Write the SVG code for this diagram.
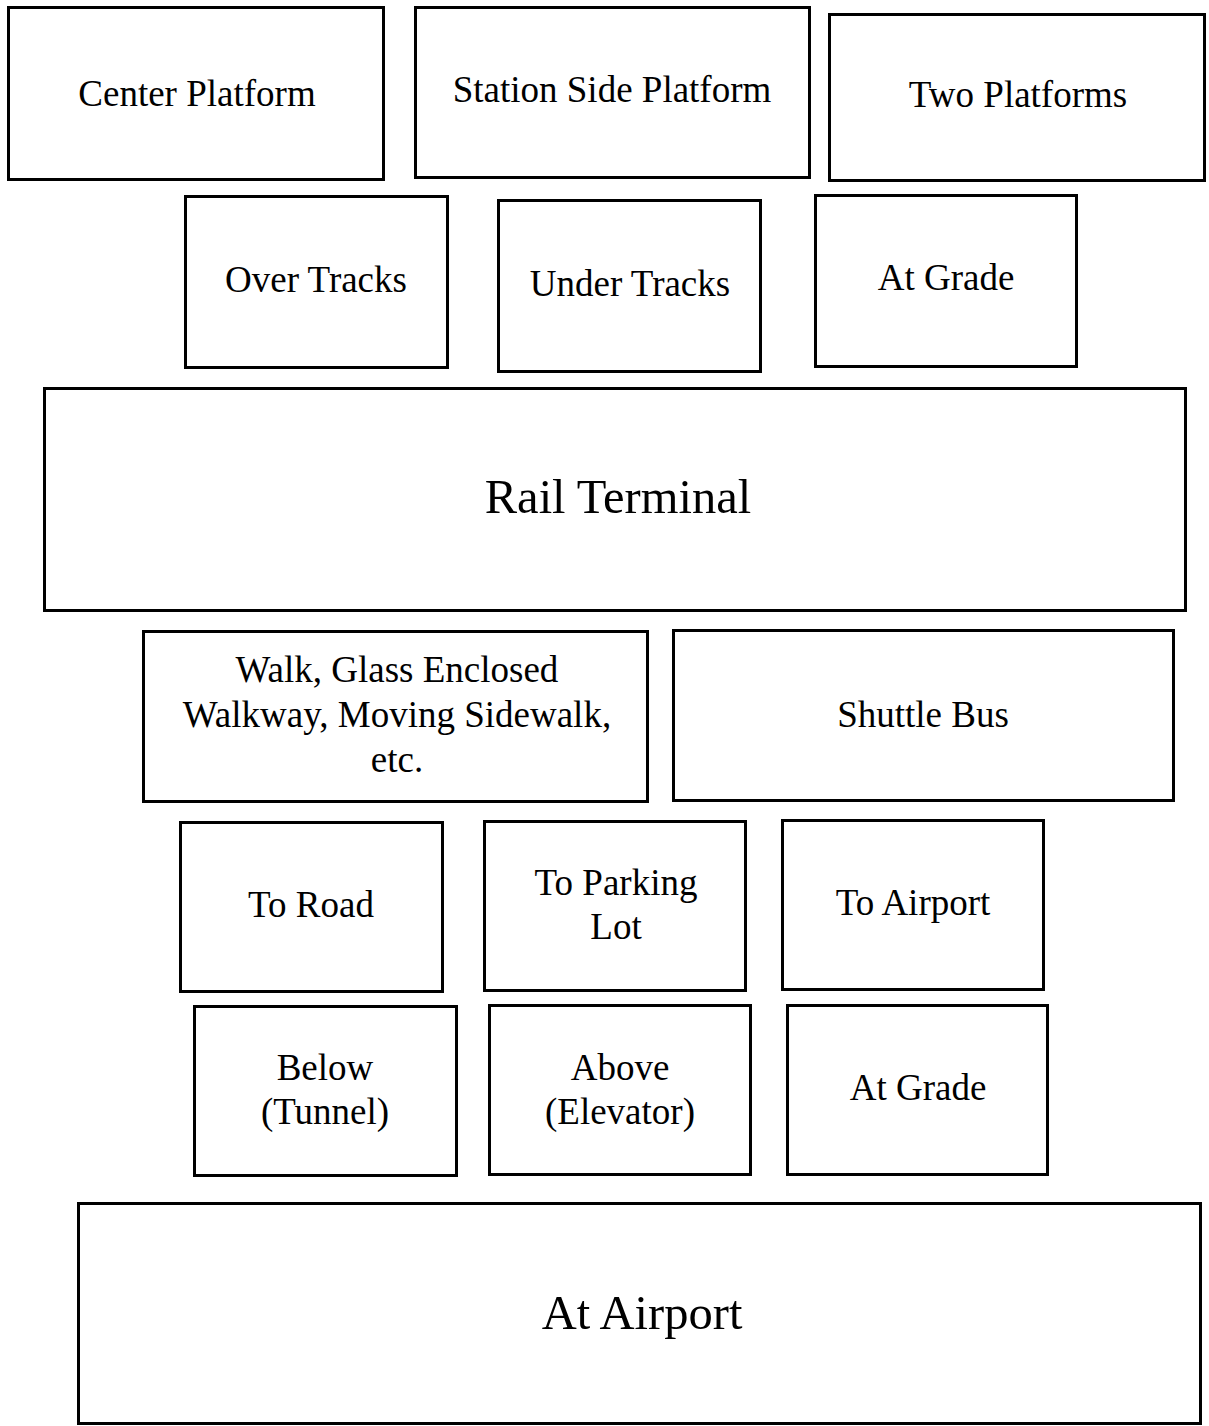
<svg xmlns="http://www.w3.org/2000/svg" width="1209" height="1426" viewBox="0 0 1209 1426">
<style>
rect.b{fill:#fff;stroke:#000;stroke-width:3}
text{font-family:"Liberation Serif","Times New Roman",serif;font-size:37px;fill:#000;text-anchor:middle}
text.big{font-size:48.5px}
</style>
<rect width="1209" height="1426" fill="#fff"/>
<g id="connectors"></g>
<g id="center-platform"><rect class="b" x="8.5" y="7.5" width="375" height="172"/><text x="197" y="106">Center Platform</text></g>
<g id="station-side-platform"><rect class="b" x="415.5" y="7.5" width="394" height="170"/><text x="612" y="102">Station Side Platform</text></g>
<g id="two-platforms"><rect class="b" x="829.5" y="14.5" width="375" height="166"/><text x="1018" y="107">Two Platforms</text></g>
<g id="over-tracks"><rect class="b" x="185.5" y="196.5" width="262" height="171"/><text x="316" y="292">Over Tracks</text></g>
<g id="under-tracks"><rect class="b" x="498.5" y="200.5" width="262" height="171"/><text x="630" y="296">Under Tracks</text></g>
<g id="at-grade-top"><rect class="b" x="815.5" y="195.5" width="261" height="171"/><text x="946" y="290">At Grade</text></g>
<g id="rail-terminal"><rect class="b" x="44.5" y="388.5" width="1141" height="222"/><text class="big" x="618" y="513">Rail Terminal</text></g>
<g id="walk"><rect class="b" x="143.5" y="631.5" width="504" height="170"/><text x="397" y="682">Walk, Glass Enclosed</text><text x="397" y="727">Walkway, Moving Sidewalk,</text><text x="397" y="772">etc.</text></g>
<g id="shuttle-bus"><rect class="b" x="673.5" y="630.5" width="500" height="170"/><text x="923" y="727">Shuttle Bus</text></g>
<g id="to-road"><rect class="b" x="180.5" y="822.5" width="262" height="169"/><text x="311" y="917">To Road</text></g>
<g id="to-parking-lot"><rect class="b" x="484.5" y="821.5" width="261" height="169"/><text x="616" y="895">To Parking</text><text x="616" y="939">Lot</text></g>
<g id="to-airport"><rect class="b" x="782.5" y="820.5" width="261" height="169"/><text x="913" y="915">To Airport</text></g>
<g id="below"><rect class="b" x="194.5" y="1006.5" width="262" height="169"/><text x="325" y="1080">Below</text><text x="325" y="1124">(Tunnel)</text></g>
<g id="above"><rect class="b" x="489.5" y="1005.5" width="261" height="169"/><text x="620" y="1080">Above</text><text x="620" y="1124">(Elevator)</text></g>
<g id="at-grade-bottom"><rect class="b" x="787.5" y="1005.5" width="260" height="169"/><text x="918" y="1100">At Grade</text></g>
<g id="at-airport"><rect class="b" x="78.5" y="1203.5" width="1122" height="220"/><text class="big" x="642" y="1329">At Airport</text></g>
</svg>
